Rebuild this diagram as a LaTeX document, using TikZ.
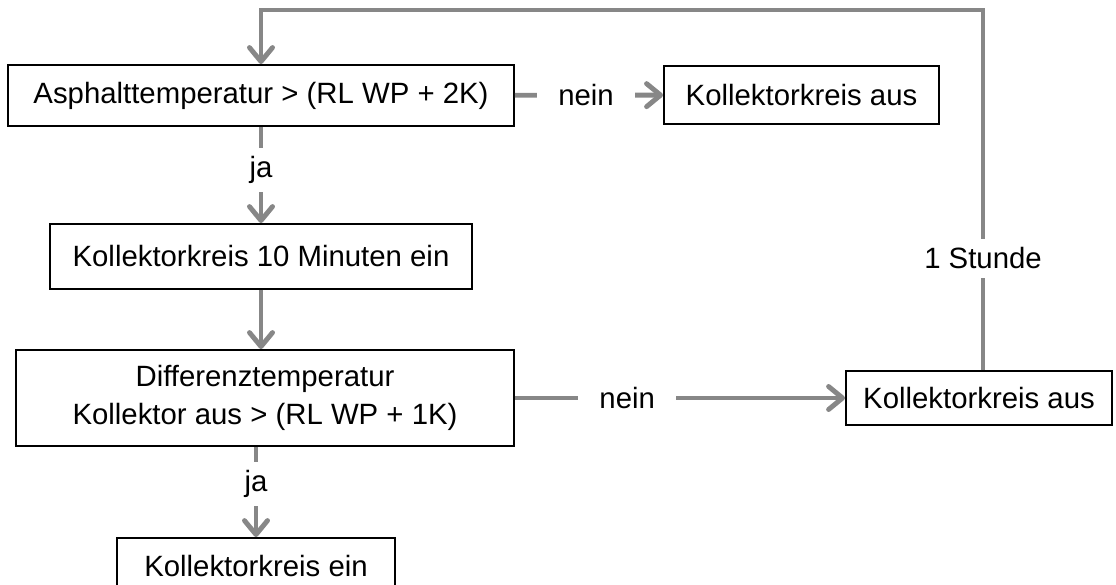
\documentclass[tikz,border=0pt]{standalone}
\usepackage{fontspec}
\setmainfont{Liberation Sans}
\usetikzlibrary{arrows.meta}
\definecolor{flowgray}{RGB}{135,135,135}
\begin{document}
\begin{tikzpicture}[
        font=\fontsize{16.7}{21.6}\selectfont,
        box/.style={draw, line width=1.1pt, align=center, inner sep=0pt},
        flow/.style={draw=flowgray, line width=2.8pt, -{Straight Barb[length=2.8mm,width=4.6mm,round]}},
        wire/.style={draw=flowgray, line width=2.8pt},
        lbl/.style={fill=white, inner xsep=.42cm, inner ysep=.17cm}
    ]
            \useasboundingbox (0,0) rectangle (22.32,-11.7);

            \node[box, minimum width=10.12cm, minimum height=1.22cm] (T) at (5.22,-1.91) {Asphalttemperatur > (RL WP + 2K)};
            \node[box, minimum width=5.5cm, minimum height=1.16cm] (K1) at (16.03,-1.9) {Kollektorkreis aus};
            \node[box, minimum width=8.44cm, minimum height=1.3cm] (K10) at (5.22,-5.13) {Kollektorkreis 10 Minuten ein};
            \node[box, minimum width=9.96cm, minimum height=1.92cm] (D) at (5.3,-7.96) {Differenztemperatur\\Kollektor aus > (RL WP + 1K)};
            \node[box, minimum width=5.32cm, minimum height=1.08cm] (K2) at (19.58,-7.96) {Kollektorkreis aus};
            \node[box, minimum width=5.56cm, minimum height=1.12cm] (KE) at (5.12,-11.32) {Kollektorkreis ein};
            \coordinate (top) at (19.66,-.2);

            \draw[flow] (T) -- node[lbl, pos=.48] {nein} (K1);
            \draw[flow] (T.south) -- node[lbl, pos=.45] {ja} (K10.north);
            \draw[flow] (K10) -- (D.north -| K10);
            \draw[flow] (D.east |- K2) -- node[lbl, pos=.34] {nein} (K2);
            \draw[flow] (D.south -| KE) -- node[lbl, pos=.41] {ja} (KE.north);
            \draw[flow] (K2.north -| top) -- node[lbl, pos=.31] {1 Stunde} (top) -- (top -| T.north) -- (T.north);
        \end{tikzpicture}
\end{document}
